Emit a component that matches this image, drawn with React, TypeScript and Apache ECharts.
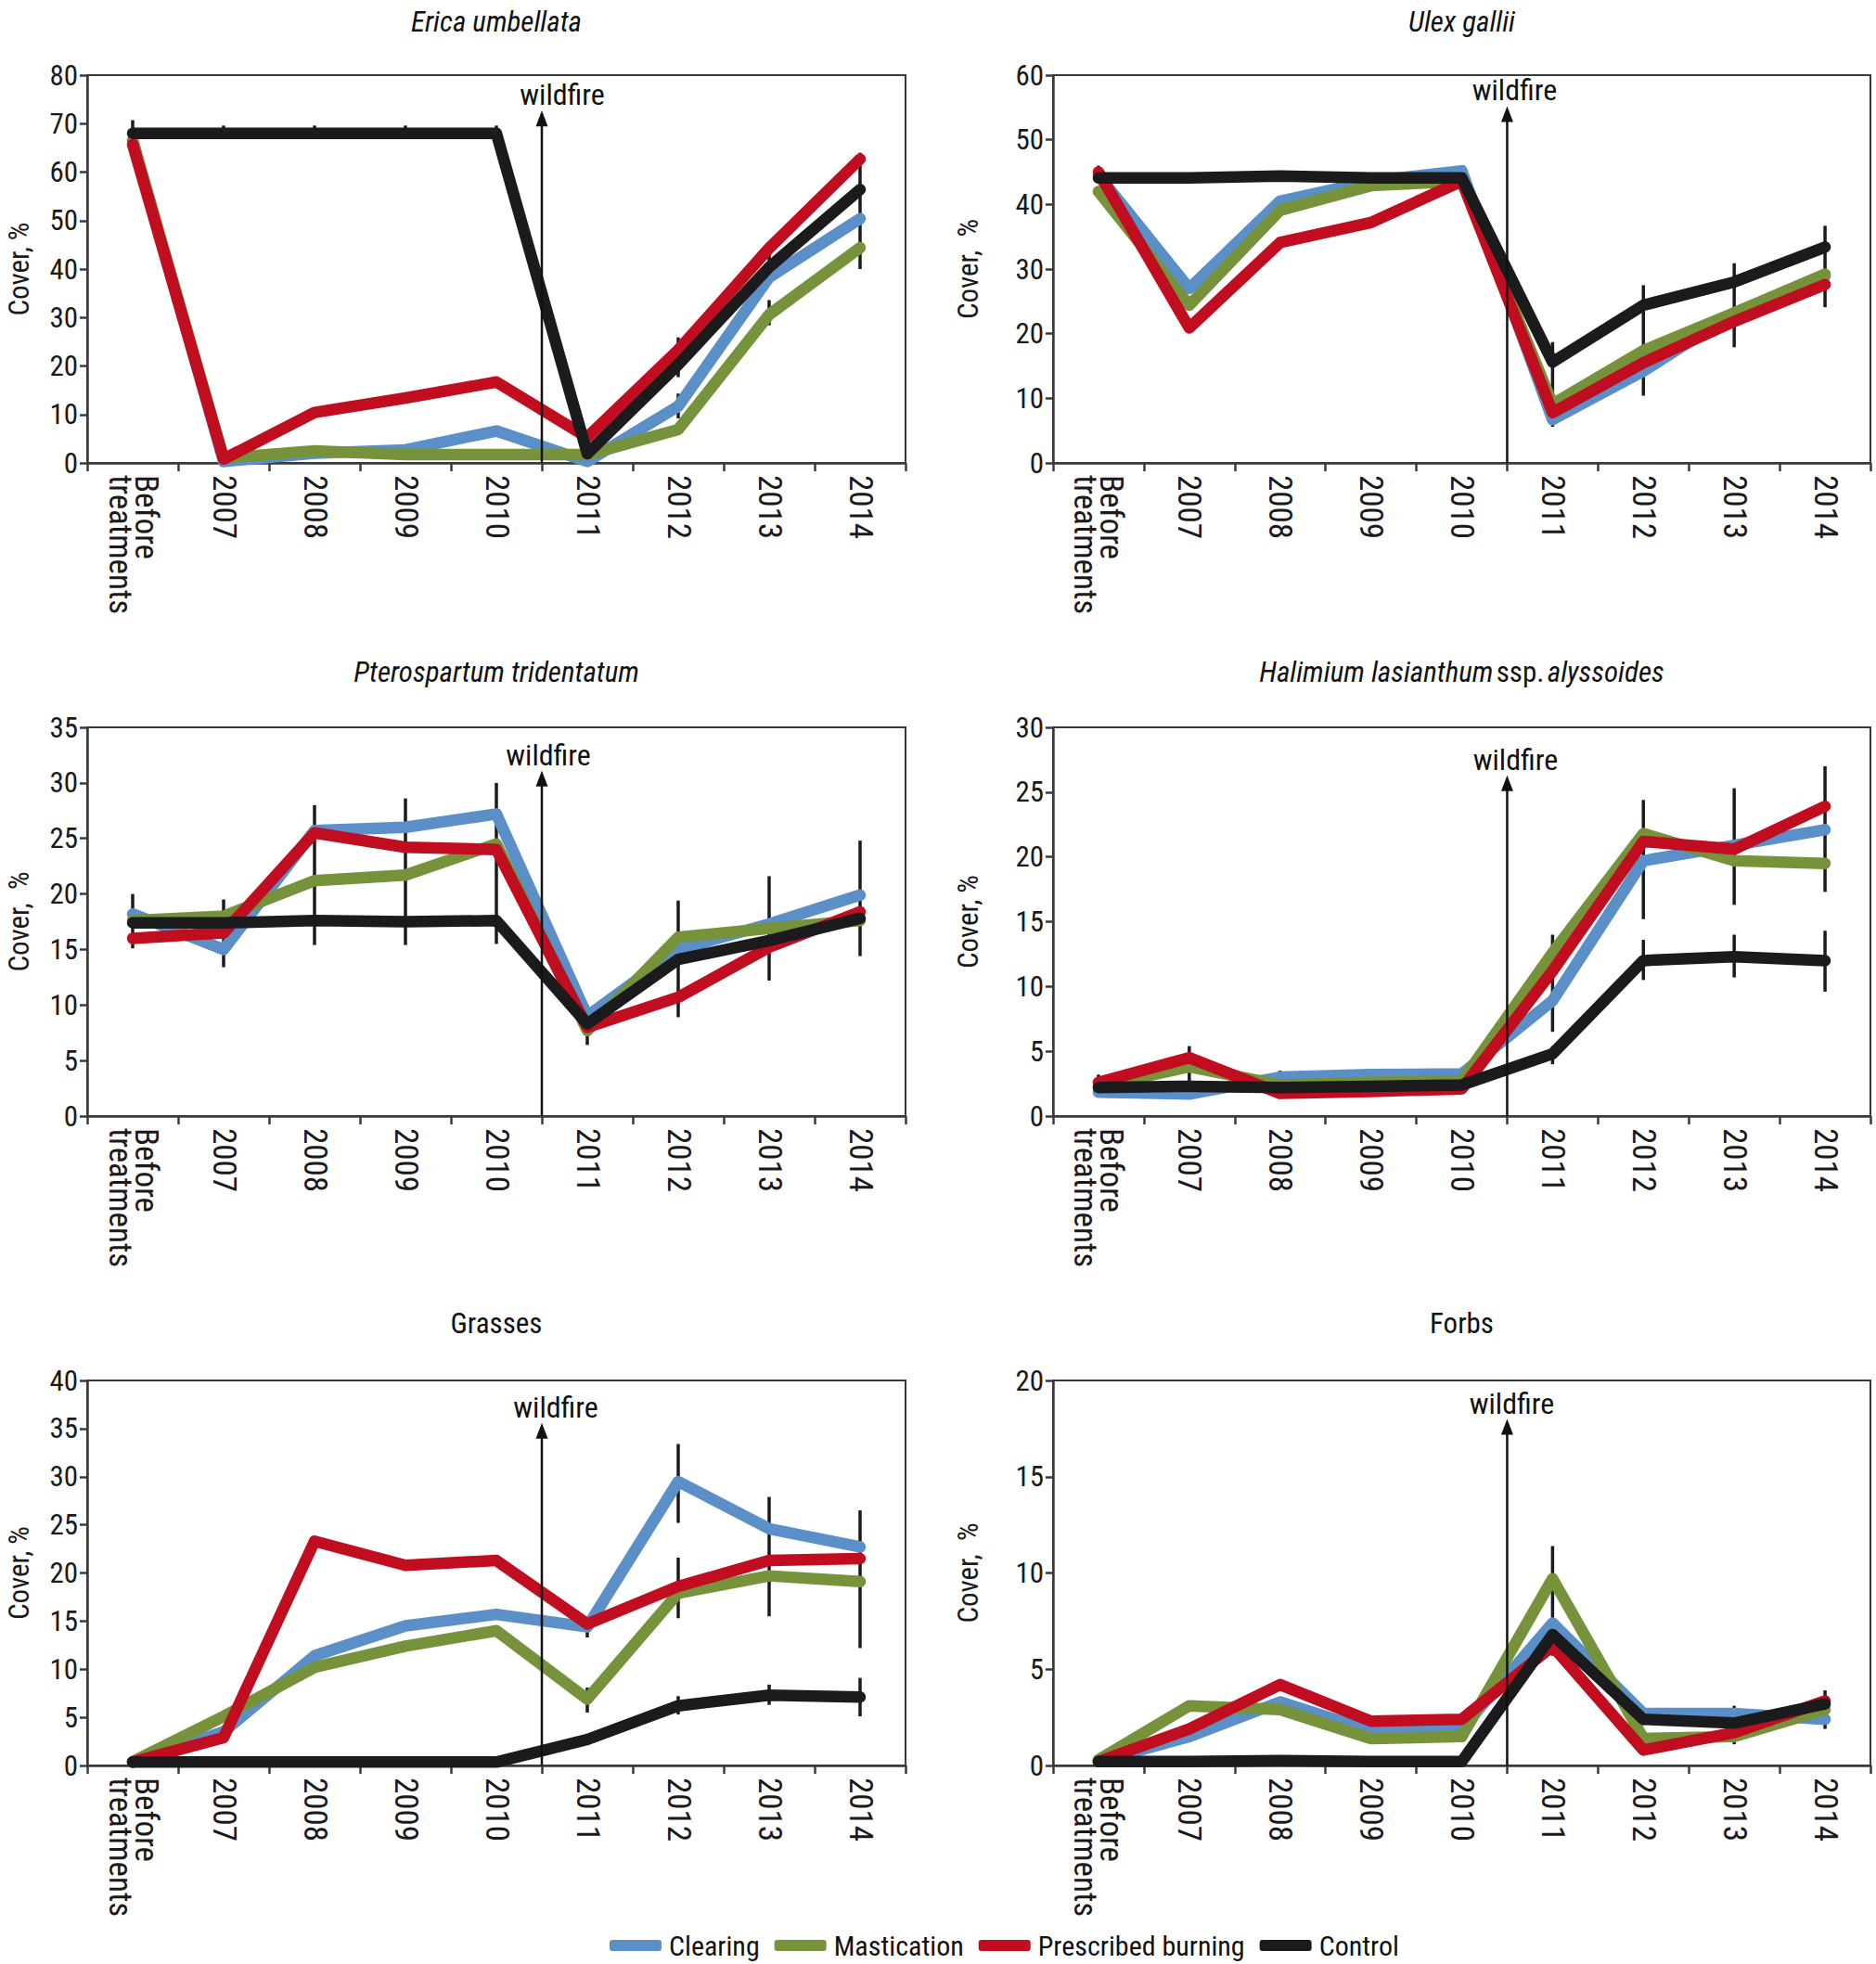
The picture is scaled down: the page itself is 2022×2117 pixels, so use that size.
import React, { useEffect, useRef } from "react";
import * as echarts from "echarts";

const COND = "'Roboto Condensed', 'Liberation Sans Narrow', 'DejaVu Sans Condensed', 'Arial Narrow', sans-serif";
const NARROW = "'Liberation Sans Narrow', 'Arial Narrow', 'Roboto Condensed', sans-serif";

const categories = ["Before\ntreatments", "2007", "2008", "2009", "2010", "2011", "2012", "2013", "2014"];
const seriesNames = ["Clearing", "Mastication", "Prescribed burning", "Control"];
const seriesColors = ["#5b8fc8", "#76933c", "#c10d20", "#1b1a1d"];

// Erica umbellata
const ericaClearing = [66.5, 0.3, 2.0, 2.7, 6.6, 0.3, 11.7, 38.3, 50.4];
const ericaMastication = [66.5, 1.0, 2.5, 1.7, 1.7, 1.7, 6.9, 30.6, 44.4];
const ericaBurning = [65.7, 0.8, 10.4, 13.4, 16.7, 5.3, 23.3, 44.3, 62.7];
const ericaControl = [68.0, 68.0, 68.0, 68.0, 68.0, 1.9, 20.3, 40.4, 56.4];
const ericaErr = [[0, 66.5, 70.7], [1, 66.8, 69.6], [2, 66.8, 69.6], [3, 66.8, 69.6], [4, 66.8, 69.6], [6, 17.7, 25.9], [6, 9.2, 14.3], [7, 41.7, 45.5], [7, 28.4, 33.6], [8, 40.0, 64.0]];

// Ulex gallii
const ulexClearing = [44.5, 27.0, 40.5, 43.6, 45.2, 6.7, 14.2, 23.2, 28.9];
const ulexMastication = [42.0, 24.4, 39.1, 42.9, 43.6, 9.1, 17.4, 23.2, 29.2];
const ulexBurning = [45.0, 20.9, 34.1, 37.2, 43.6, 7.8, 15.5, 21.9, 27.6];
const ulexControl = [44.1, 44.1, 44.4, 44.1, 44.1, 15.6, 24.4, 28.0, 33.4];
const ulexErr = [[0, 43.6, 46.0], [5, 5.6, 18.7], [6, 10.4, 27.5], [7, 17.9, 30.9], [8, 24.1, 36.7]];

// Pterospartum tridentatum
const pteroClearing = [18.2, 15.0, 25.7, 26.0, 27.2, 9.0, 15.0, 17.3, 19.9];
const pteroMastication = [17.6, 18.0, 21.2, 21.7, 24.5, 7.7, 16.1, 16.9, 17.6];
const pteroBurning = [16.0, 16.5, 25.5, 24.2, 24.0, 8.0, 10.7, 15.2, 18.4];
const pteroControl = [17.4, 17.4, 17.6, 17.5, 17.6, 8.3, 14.1, 15.8, 17.8];
const pteroErr = [[0, 15.1, 20.0], [1, 13.4, 19.5], [2, 15.4, 28.0], [3, 15.4, 28.6], [4, 15.5, 30.0], [5, 6.4, 10.0], [6, 8.9, 19.4], [7, 12.2, 21.6], [8, 14.4, 24.8]];

// Halimium lasianthum ssp. alyssoides
const halimClearing = [1.85, 1.7, 3.0, 3.2, 3.25, 8.9, 19.7, 20.9, 22.1];
const halimMastication = [2.3, 3.8, 2.4, 2.6, 2.7, 12.6, 21.8, 19.7, 19.5];
const halimBurning = [2.6, 4.5, 1.75, 1.9, 2.1, 11.2, 21.2, 20.6, 23.9];
const halimControl = [2.2, 2.3, 2.2, 2.3, 2.4, 4.8, 12.0, 12.3, 12.0];
const halimErr = [[0, 1.9, 3.2], [1, 2.4, 5.4], [2, 2.5, 3.5], [3, 2.6, 3.5], [4, 2.5, 3.5], [5, 6.5, 14.0], [5, 4.0, 5.4], [6, 15.2, 24.4], [6, 10.5, 13.6], [7, 16.3, 25.3], [7, 10.7, 14.0], [8, 17.3, 27.0], [8, 9.6, 14.3]];

// Grasses
const grassClearing = [0.35, 3.5, 11.4, 14.5, 15.7, 14.4, 29.5, 24.6, 22.7];
const grassMastication = [0.4, 5.1, 10.2, 12.4, 14.0, 6.9, 17.9, 19.7, 19.1];
const grassBurning = [0.35, 2.9, 23.3, 20.8, 21.3, 14.7, 18.6, 21.3, 21.5];
const grassControl = [0.35, 0.35, 0.35, 0.35, 0.35, 2.7, 6.2, 7.3, 7.1];
const grassErr = [[5, 13.3, 14.6], [5, 5.5, 8.1], [6, 25.2, 33.4], [6, 15.3, 21.6], [6, 5.3, 7.2], [7, 15.5, 27.9], [7, 6.3, 8.4], [8, 12.2, 26.5], [8, 5.1, 9.1]];

// Forbs
const forbClearing = [0.2, 1.5, 3.3, 1.8, 1.9, 7.4, 2.7, 2.7, 2.4];
const forbMastication = [0.3, 3.1, 2.9, 1.4, 1.5, 9.7, 1.4, 1.5, 2.9];
const forbBurning = [0.2, 1.9, 4.2, 2.3, 2.4, 6.2, 0.8, 1.7, 3.35];
const forbControl = [0.2, 0.2, 0.25, 0.2, 0.2, 6.8, 2.4, 2.2, 3.2];
const forbErr = [[5, 5.7, 11.4], [6, 2.1, 3.0], [7, 1.1, 3.1], [8, 1.9, 3.9]];

const yMax = [80, 60, 35, 30, 40, 20];
const yInterval = [10, 10, 5, 5, 5, 5];
const wildfireTop = [72.7, 55.2, 31.1, 26.3, 35.6, 18.0];
const yNames = ["Cover, %", "Cover,  %", "Cover,  %", "Cover, %", "Cover, %", "Cover,  %"];
const titles = [
  "{i|Erica umbellata}",
  "{i|Ulex gallii}",
  "{i|Pterospartum tridentatum}",
  "{i|Halimium lasianthum} {n|ssp.} {i|alyssoides}",
  "{n|Grasses}",
  "{n|Forbs}",
];

const panelSeries = [
  [ericaClearing, ericaMastication, ericaBurning, ericaControl],
  [ulexClearing, ulexMastication, ulexBurning, ulexControl],
  [pteroClearing, pteroMastication, pteroBurning, pteroControl],
  [halimClearing, halimMastication, halimBurning, halimControl],
  [grassClearing, grassMastication, grassBurning, grassControl],
  [forbClearing, forbMastication, forbBurning, forbControl],
];
const panelErr = [ericaErr, ulexErr, pteroErr, halimErr, grassErr, forbErr];

// layout (pixels)
const colLeft = [94, 1135];
const colWidth = [882, 881];
const rowTop = [81, 784, 1488];
const rowHeight = [418, 419, 415];
const titleY = [23, 724, 1426];
const nameGaps = [58, 76];
const wildfireDx = [22, 8, 7, 9, 15, 5];

export default function App() {
  const ref = useRef<HTMLDivElement>(null);
  useEffect(() => {
    if (!ref.current) return;
    const chart = echarts.init(ref.current, undefined, { renderer: "svg" });

    const grids: any[] = [];
    const xAxes: any[] = [];
    const yAxes: any[] = [];
    const series: any[] = [];
    const graphics: any[] = [];

    for (let p = 0; p < 6; p++) {
      const col = p % 2;
      const row = Math.floor(p / 2);
      grids.push({
        left: colLeft[col],
        top: rowTop[row],
        width: colWidth[col],
        height: rowHeight[row],
        show: true,
        borderColor: "#3a3a3a",
        borderWidth: 2,
        backgroundColor: "transparent",
        containLabel: false,
      });
      xAxes.push({
        type: "category",
        gridIndex: p,
        data: categories,
        boundaryGap: true,
        axisLine: { show: true, lineStyle: { color: "#3a3a3a", width: 2.5 } },
        axisTick: { show: true, interval: 0, length: 9, lineStyle: { color: "#3a3a3a", width: 2.5 } },
        axisLabel: {
          interval: 0,
          rotate: -90,
          margin: 13,
          fontFamily: NARROW,
          fontSize: 35,
          lineHeight: 28,
          color: "#1a1a1a",
        },
        splitLine: { show: false },
      });
      yAxes.push({
        type: "value",
        gridIndex: p,
        min: 0,
        max: yMax[p],
        interval: yInterval[p],
        axisLine: { show: true, lineStyle: { color: "#3a3a3a", width: 2.5 } },
        axisTick: { show: true, length: 8, lineStyle: { color: "#3a3a3a", width: 2.5 } },
        axisLabel: { fontFamily: COND, fontSize: 31, color: "#1a1a1a", margin: 10 },
        splitLine: { show: false },
        name: yNames[p],
        nameLocation: "middle",
        nameGap: nameGaps[col],
        nameRotate: 90,
        nameTextStyle: { fontFamily: COND, fontSize: 31, color: "#1a1a1a" },
      });

      series.push({
        type: "custom",
        name: "err" + p,
        xAxisIndex: p,
        yAxisIndex: p,
        z: 1,
        silent: true,
        clip: false,
        encode: { x: 0, y: [1, 2] },
        data: panelErr[p],
        renderItem: (params: any, api: any) => {
          const a = api.coord([api.value(0), api.value(1)]);
          const b = api.coord([api.value(0), api.value(2)]);
          return {
            type: "line",
            shape: { x1: a[0], y1: a[1], x2: b[0], y2: b[1] },
            style: { stroke: "#1b1a1d", lineWidth: 3.5 },
          };
        },
      });

      panelSeries[p].forEach((vals, s) => {
        series.push({
          type: "line",
          name: seriesNames[s],
          xAxisIndex: p,
          yAxisIndex: p,
          data: vals,
          z: 2 + s,
          symbol: "none",
          showSymbol: false,
          silent: true,
          itemStyle: { color: seriesColors[s] },
          lineStyle: { color: seriesColors[s], width: 12.5, cap: "round", join: "round" },
        });
      });

      const dx = wildfireDx[p];
      series.push({
        type: "custom",
        name: "wildfire" + p,
        xAxisIndex: p,
        yAxisIndex: p,
        z: 10,
        silent: true,
        clip: false,
        encode: { x: 0, y: 1 },
        data: [["2010", wildfireTop[p]]],
        renderItem: (params: any, api: any) => {
          const base = api.coord([api.value(0), 0]);
          const tip = api.coord([api.value(0), api.value(1)]);
          const half = api.size([1, 0])[0] / 2;
          const x = base[0] + half;
          const ty = tip[1];
          return {
            type: "group",
            children: [
              { type: "line", shape: { x1: x, y1: base[1], x2: x, y2: ty + 12 }, style: { stroke: "#111", lineWidth: 2.5 } },
              { type: "polygon", shape: { points: [[x, ty], [x - 6.5, ty + 17], [x + 6.5, ty + 17]] }, style: { fill: "#111" } },
              {
                type: "text",
                x: x + dx,
                y: ty - 1,
                style: { text: "wildfire", align: "center", verticalAlign: "bottom", fontFamily: COND, fontSize: 32, fill: "#111" },
              },
            ],
          };
        },
      });

      graphics.push({
        type: "text",
        x: colLeft[col] + colWidth[col] / 2,
        y: titleY[row],
        silent: true,
        style: {
          text: titles[p],
          align: "center",
          verticalAlign: "middle",
          fill: "#111",
          rich: {
            i: { fontFamily: COND, fontStyle: "italic", fontSize: 31, fill: "#111" },
            n: { fontFamily: COND, fontSize: 31, fill: "#111" },
          },
        },
      });
    }

    chart.setOption({
      animation: false,
      backgroundColor: "#ffffff",
      grid: grids,
      xAxis: xAxes,
      yAxis: yAxes,
      series,
      graphic: graphics,
      legend: {
        data: seriesNames,
        left: 652,
        top: 2077,
        icon: "roundRect",
        itemWidth: 56,
        itemHeight: 12,
        itemGap: 16,
        selectedMode: false,
        textStyle: { fontFamily: COND, fontSize: 30, color: "#111", padding: [0, 0, 0, 3] },
      },
    });
    return () => chart.dispose();
  }, []);
  return <div ref={ref} style={{ position: "absolute", left: 0, top: 0, width: 2022, height: 2117 }} />;
}
